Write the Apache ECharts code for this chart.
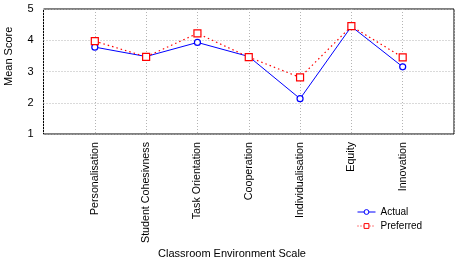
<!DOCTYPE html>
<html><head><meta charset="utf-8">
<script src="https://cdn.jsdelivr.net/npm/echarts@6/dist/echarts.min.js"></script>
<style>html,body{margin:0;padding:0;background:#fff}#c{width:457px;height:263px}</style>
</head><body><div id="c"></div>
<script>
var categories = ['Personalisation','Student Cohesivness','Task Orientation','Cooperation','Individualisation','Equity','Innovation'];
var actual = [3.78, 3.48, 3.93, 3.48, 2.13, 4.44, 3.15];
var preferred = [3.97, 3.47, 4.22, 3.46, 2.81, 4.45, 3.45];
var yTicks = [1, 2, 3, 4, 5];

var font = 'Arial, "Liberation Sans", sans-serif';
var narrow = '"Liberation Sans Narrow", "Arial Narrow", Arial, sans-serif';
var xData = [''].concat(categories, ['']);
function pad(a){ return [null].concat(a, [null]); }

var chart = echarts.init(document.getElementById('c'));
chart.setOption({
  animation: false,
  backgroundColor: '#fff',
  grid: { left: 43.5, right: 3, top: 9, bottom: 129, show: true, borderColor: '#000', borderWidth: 1, backgroundColor: 'transparent' },
  xAxis: {
    type: 'category', data: xData, boundaryGap: false,
    axisLine: { show: false }, axisTick: { show: false },
    axisLabel: { rotate: 90, margin: 8, fontFamily: font, fontSize: 10.7, color: '#000', interval: 0 },
    splitLine: { show: true, lineStyle: { color: '#b4b4b4', type: [1, 2], width: 1 } }
  },
  yAxis: {
    type: 'value', min: yTicks[0], max: yTicks[yTicks.length - 1], interval: 1,
    axisLine: { show: false }, axisTick: { show: false },
    axisLabel: { margin: 10, fontFamily: font, fontSize: 11, color: '#000' },
    splitLine: { show: true, lineStyle: { color: '#b4b4b4', type: [1, 2], width: 1 } }
  },
  legend: {
    orient: 'vertical', left: 352, top: 202, itemWidth: 18, itemHeight: 6, itemGap: 4,
    textStyle: { fontFamily: narrow, fontSize: 10, color: '#000' },
    data: [
      { name: 'Actual', itemStyle: { borderWidth: 1 }, lineStyle: { width: 1 } },
      { name: 'Preferred', itemStyle: { borderWidth: 1 }, lineStyle: { width: 1, type: [1, 2] } }
    ]
  },
  graphic: [
    { type: 'text', left: 158, top: 248, style: { text: 'Classroom Environment Scale', font: '11px ' + font, fill: '#000' } },
    { type: 'text', rotation: Math.PI / 2, x: 3, y: 86, style: { text: 'Mean Score', font: '11px ' + font, fill: '#000', textVerticalAlign: 'top' } }
  ],
  series: [
    { name: 'Actual', type: 'line', data: pad(actual), symbol: 'circle', symbolSize: 6,
      lineStyle: { color: '#0000ff', width: 1 },
      itemStyle: { color: '#fff', borderColor: '#0000ff', borderWidth: 1.2 } },
    { name: 'Preferred', type: 'line', data: pad(preferred), symbol: 'rect', symbolSize: 7,
      lineStyle: { color: '#ff0000', width: 1.2, type: [1.5, 3] },
      itemStyle: { color: '#fff', borderColor: '#ff0000', borderWidth: 1.2 } }
  ]
});
</script></body></html>
